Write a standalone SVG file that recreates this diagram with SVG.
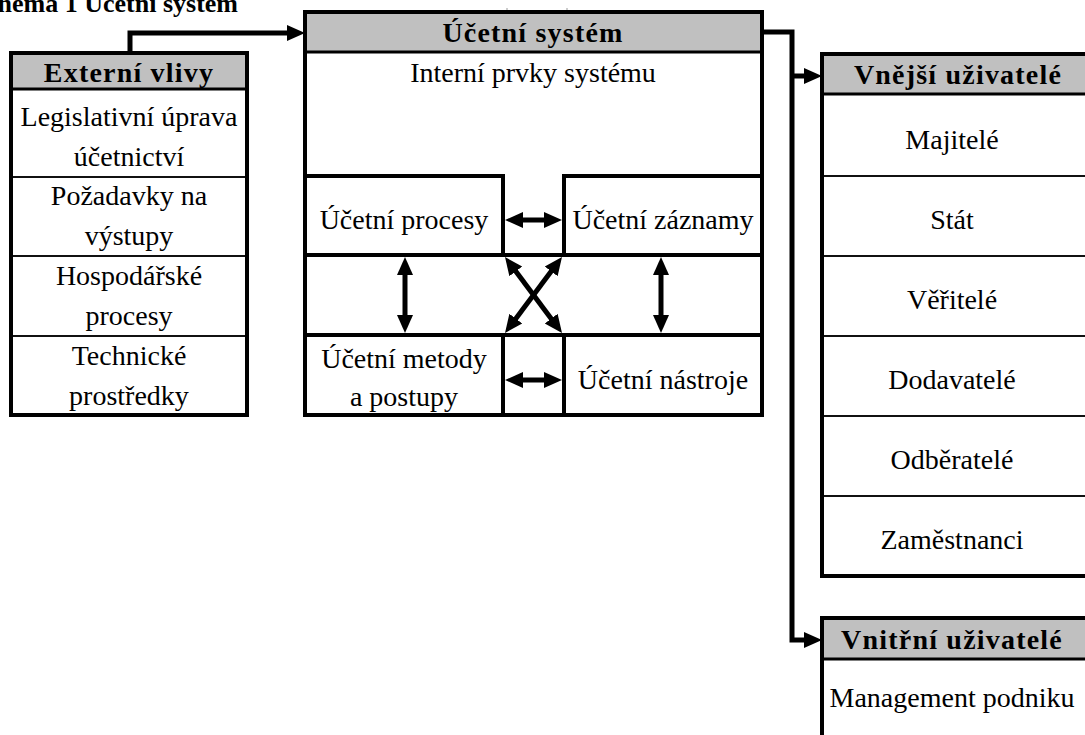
<svg xmlns="http://www.w3.org/2000/svg" width="1085" height="735" viewBox="0 0 1085 735">
  <style>
    .hdr { fill: #c0c0c0; }
    .frame { fill: none; stroke: #000; stroke-width: 4; }
    .sep { stroke: #000; stroke-width: 3; }
    .row { stroke: #111; stroke-width: 2; }
    .t { font-family: "Liberation Serif", "Times New Roman", serif; font-size: 28px; text-anchor: middle; fill: #000; }
    .b { font-weight: bold; letter-spacing: 1.2px; }
    .con { fill: none; stroke: #000; stroke-width: 5; }
    .dbl { fill: none; stroke: #000; stroke-width: 5; marker-start: url(#head); marker-end: url(#head); }
  </style>
  <defs>
    <marker id="head" markerUnits="userSpaceOnUse" viewBox="0 0 18 18" markerWidth="18" markerHeight="18" refX="6" refY="9" orient="auto-start-reverse">
      <path d="M0,1 L18,9 L0,17 Z" fill="#000"/>
    </marker>
  </defs>

  <rect width="1085" height="735" fill="#fff"/>

  <!-- caption -->
  <text x="238" y="12" font-family="Liberation Serif, Times New Roman, serif" font-size="26" font-weight="bold" text-anchor="end">Schéma 1 Účetní systém</text>

  <!-- external influences -->
  <g id="externi-vlivy">
    <rect class="hdr" x="11" y="53" width="236" height="36"/>
    <line class="sep" x1="11" y1="89" x2="247" y2="89"/>
    <line class="row" x1="11" y1="177" x2="247" y2="177"/>
    <line class="row" x1="11" y1="256" x2="247" y2="256"/>
    <line class="row" x1="11" y1="336" x2="247" y2="336"/>
    <rect class="frame" x="11" y="53" width="236" height="362"/>
    <text class="t b" x="129" y="82">Externí vlivy</text>
    <text class="t" x="129" y="126">Legislativní úprava</text>
    <text class="t" x="129" y="166">účetnictví</text>
    <text class="t" x="129" y="205">Požadavky na</text>
    <text class="t" x="129" y="245">výstupy</text>
    <text class="t" x="129" y="285">Hospodářské</text>
    <text class="t" x="129" y="325">procesy</text>
    <text class="t" x="129" y="365">Technické</text>
    <text class="t" x="129" y="405">prostředky</text>
  </g>

  <!-- accounting system -->
  <g id="ucetni-system">
    <rect class="hdr" x="305" y="12" width="457" height="40"/>
    <line x1="507" y1="8" x2="507" y2="12" stroke="#999" stroke-width="1"/>
    <line x1="567" y1="8" x2="567" y2="12" stroke="#999" stroke-width="1"/>
    <line class="sep" x1="305" y1="52" x2="762" y2="52"/>
    <rect class="frame" x="305" y="12" width="457" height="403"/>
    <text class="t b" x="533" y="42">Účetní systém</text>
    <text class="t" x="533" y="82">Interní prvky systému</text>
    <!-- inner grid -->
    <path class="frame" d="M305,176 H503 V255 M564,255 V176 H762 M305,255 H762 M305,335 H762 M503,335 V415 M564,335 V415"/>
  </g>

  <g id="ucetni-procesy">
    <text class="t" x="404" y="229">Účetní procesy</text>
  </g>
  <g id="ucetni-zaznamy">
    <text class="t" x="663" y="229">Účetní záznamy</text>
  </g>
  <g id="ucetni-metody">
    <text class="t" x="404" y="368">Účetní metody</text>
    <text class="t" x="404" y="406">a postupy</text>
  </g>
  <g id="ucetni-nastroje">
    <text class="t" x="663" y="389">Účetní nástroje</text>
  </g>

  <!-- external users -->
  <g id="vnejsi-uzivatele">
    <rect class="hdr" x="822" y="54" width="268" height="40"/>
    <line class="sep" x1="822" y1="94" x2="1090" y2="94"/>
    <line class="row" x1="822" y1="176" x2="1090" y2="176"/>
    <line class="row" x1="822" y1="256" x2="1090" y2="256"/>
    <line class="row" x1="822" y1="336" x2="1090" y2="336"/>
    <line class="row" x1="822" y1="416" x2="1090" y2="416"/>
    <line class="row" x1="822" y1="496" x2="1090" y2="496"/>
    <rect class="frame" x="822" y="54" width="268" height="522"/>
    <text class="t b" x="958" y="84">Vnější uživatelé</text>
    <text class="t" x="952" y="149">Majitelé</text>
    <text class="t" x="952" y="229">Stát</text>
    <text class="t" x="952" y="309">Věřitelé</text>
    <text class="t" x="952" y="389">Dodavatelé</text>
    <text class="t" x="952" y="469">Odběratelé</text>
    <text class="t" x="952" y="549">Zaměstnanci</text>
  </g>

  <!-- internal users -->
  <g id="vnitrni-uzivatele">
    <rect class="hdr" x="822" y="618" width="268" height="41"/>
    <line class="sep" x1="822" y1="659" x2="1090" y2="659"/>
    <rect class="frame" x="822" y="618" width="268" height="140"/>
    <text class="t b" x="952" y="649">Vnitřní uživatelé</text>
    <text class="t" x="952" y="707">Management podniku</text>
  </g>

  <!-- connectors -->
  <g id="connectors">
    <path class="con" d="M130,53 V33 H293" marker-end="url(#head)"/>
    <path class="con" d="M762,32 H792 V640 H810" marker-end="url(#head)"/>
    <path class="con" d="M792,76 H810" marker-end="url(#head)"/>
    <path class="dbl" d="M517,220 H550"/>
    <path class="dbl" d="M517,380 H550"/>
    <path class="dbl" d="M405,269 V321"/>
    <path class="dbl" d="M661,269 V321"/>
    <path class="dbl" d="M512.2,266.6 L554.8,323.4"/>
    <path class="dbl" d="M554.8,266.6 L512.2,323.4"/>
  </g>
</svg>
